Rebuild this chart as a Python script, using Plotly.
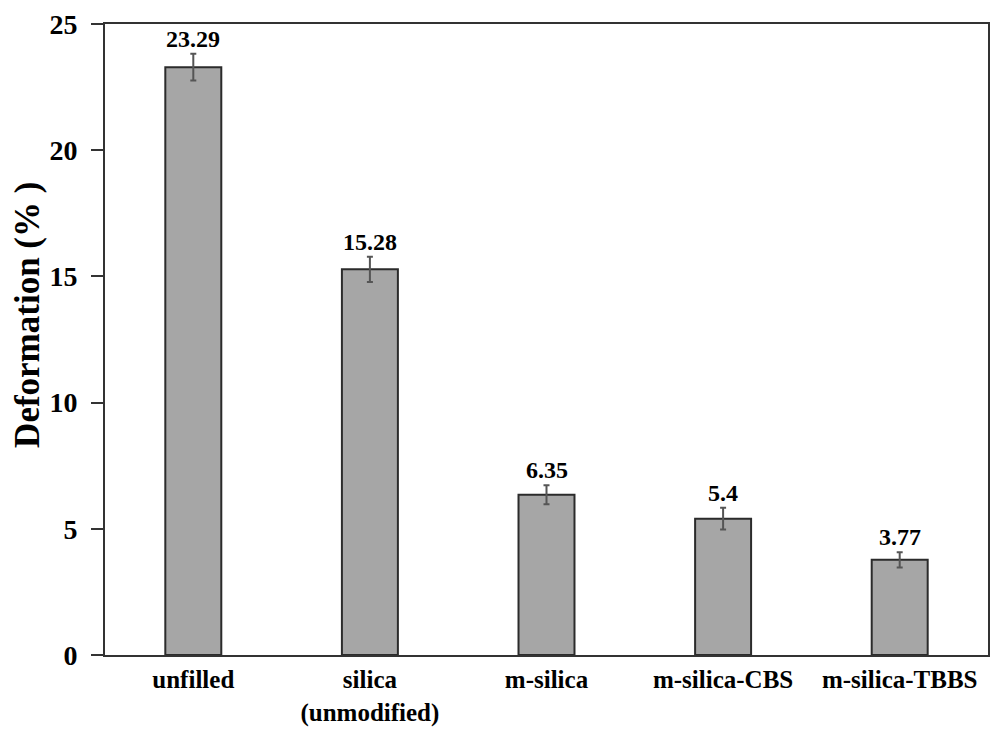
import plotly.graph_objects as go

categories = ["unfilled", "silica<br>(unmodified)", "m-silica", "m-silica-CBS", "m-silica-TBBS"]
values = [23.29, 15.28, 6.35, 5.4, 3.77]
errors = [0.53, 0.5, 0.38, 0.43, 0.3]
labels = ["23.29", "15.28", "6.35", "5.4", "3.77"]
y_title = "Deformation (% )"

FONT = "Liberation Serif"

fig = go.Figure()
fig.add_trace(go.Bar(
    x=categories, y=values,
    width=0.317,
    marker=dict(color="#a6a6a6", line=dict(color="#2b2b2b", width=2)),
    error_y=dict(type="data", array=errors, visible=True, color="#555555", thickness=2, width=3),
    showlegend=False,
))

for c, v, e, t in zip(categories, values, errors, labels):
    fig.add_annotation(x=c, y=v + e, text=t, showarrow=False, yanchor="bottom", yshift=0,
                       font=dict(family=FONT, size=24, color="black", weight="bold"))

# y-axis title placed as rotated annotation (slightly above center as in reference)
fig.add_annotation(xref="paper", yref="paper", x=0, y=0.539, xshift=-77, textangle=-90,
                   text=y_title, showarrow=False, xanchor="center", yanchor="middle",
                   font=dict(family=FONT, size=35, color="black", weight="bold"))

fig.update_layout(
    width=990, height=729,
    margin=dict(l=105, r=2, t=24, b=74),
    paper_bgcolor="white", plot_bgcolor="white",
)
fig.update_xaxes(
    range=[-0.5, 4.5], automargin=False,
    showline=True, linecolor="#333333", linewidth=2, mirror=True,
    ticks="", showgrid=False,
    tickfont=dict(family=FONT, size=25, color="black", weight="bold"),
    ticklabelstandoff=1,
)
fig.update_yaxes(
    range=[0, 25], dtick=5, automargin=False,
    showline=True, linecolor="#333333", linewidth=2, mirror=True,
    ticks="outside", ticklen=12, tickwidth=2, tickcolor="#333333",
    showgrid=False, zeroline=False,
    tickfont=dict(family=FONT, size=28, color="black", weight="bold"),
    ticklabelstandoff=8,
)

fig.write_html("out.html")
